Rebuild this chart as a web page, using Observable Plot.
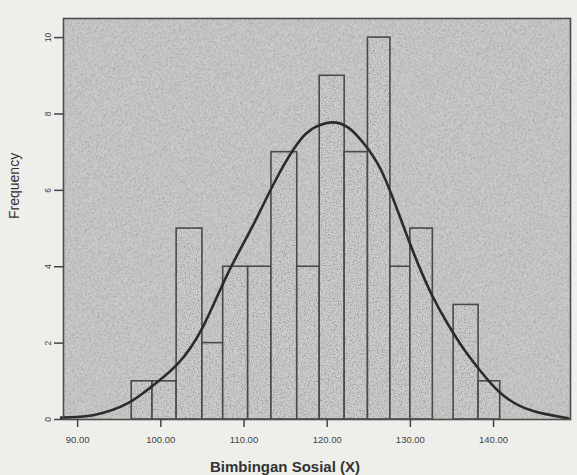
<!DOCTYPE html>
<html>
<head>
<meta charset="utf-8">
<script src="https://cdn.jsdelivr.net/npm/d3@7"></script>
<script src="https://cdn.jsdelivr.net/npm/@observablehq/plot@0.6"></script>
<style>
  html, body { margin: 0; padding: 0; background: #eeeeeb; }
  #chart svg { display: block; }
</style>
</head>
<body>
<div id="chart"></div>
<script>
// Histogram bins (lower / upper edges) and frequencies
const binLo  = [96.5, 99.0, 101.9, 105.0, 107.5, 110.5, 113.3, 116.4, 119.1, 122.1, 124.9, 127.6, 130.0, 132.7, 135.2, 138.2];
const binHi  = [99.0, 101.9, 105.0, 107.5, 110.5, 113.3, 116.4, 119.1, 122.1, 124.9, 127.6, 130.0, 132.7, 135.2, 138.2, 140.8];
const counts = [1, 1, 5, 2, 4, 4, 7, 4, 9, 7, 10, 4, 5, 0, 3, 1];

// Normal curve, points
const curveX = [88.0, 92.0, 96.0, 99.0, 102.0, 105.0, 108.0, 111.0, 114.0, 117.0, 119.0, 120.6, 122.5, 124.5, 126.5, 128.5, 130.5, 132.5, 134.5, 136.5, 138.5, 141.0, 144.5, 149.0];
const curveY = [0.05, 0.12, 0.42, 0.88, 1.45, 2.4, 3.8, 5.05, 6.35, 7.38, 7.7, 7.78, 7.65, 7.2, 6.52, 5.45, 4.3, 3.3, 2.5, 1.82, 1.25, 0.66, 0.24, 0.03];

// Tick values and labels
const xTicks = [90, 100, 110, 120, 130, 140];
const xTickLabels = ["90.00", "100.00", "110.00", "120.00", "130.00", "140.00"];
const yTicks = [0, 2, 4, 6, 8, 10];

const bars = binLo.map((lo, i) => ({x1: lo, x2: binHi[i], y: counts[i]}));
const curve = curveX.map((x, i) => ({x, y: curveY[i]}));

const plot = Plot.plot({
  width: 577,
  height: 475,
  marginTop: 18,
  marginRight: 7,
  marginBottom: 56,
  marginLeft: 63,
  style: {background: "#eeeeeb", fontFamily: "Liberation Sans, Arial, sans-serif", color: "#3a3a3a"},
  x: {domain: [88.3, 149.25]},
  y: {domain: [0, 10.5]},
  marks: [
    Plot.frame({fill: "url(#speckle)", stroke: null}),
    Plot.rectY(bars, {x1: "x1", x2: "x2", y: "y", fill: "url(#speckle)", stroke: "#4a4a4a", strokeWidth: 1.6}),
    Plot.line(curve, {x: "x", y: "y", curve: "natural", stroke: "#2b2b2b", strokeWidth: 2.6}),
    Plot.frame({stroke: "#4d4d4d", strokeWidth: 1.6}),
    Plot.axisX({
      ticks: xTicks,
      tickFormat: (d) => xTickLabels[xTicks.indexOf(d)],
      tickSize: 8, tickPadding: 9, fontSize: 9.5, stroke: "#444", strokeWidth: 1.5, fill: "#444",
      label: null
    }),
    Plot.axisY({
      ticks: yTicks,
      tickSize: 9, tickPadding: 4, tickRotate: -90, fontSize: 8.5, stroke: "#444", strokeWidth: 1.5, fill: "#444",
      label: null
    }),
    Plot.text(["Bimbingan Sosial (X)"], {frameAnchor: "bottom", dy: 52, dx: -32, fontSize: 15, fontWeight: "bold", fill: "#333", letterSpacing: 0.6}),
    Plot.text(["Frequency"], {frameAnchor: "left", dx: -49, rotate: -90, fontSize: 14, fill: "#333", letterSpacing: 1.2})
  ]
});

// speckled grey texture used as fill for the plot area and bars
const defs = d3.select(plot).insert("defs", ":first-child");
const flt = defs.append("filter").attr("id", "noise").attr("x", 0).attr("y", 0).attr("width", "100%").attr("height", "100%");
flt.append("feTurbulence").attr("type", "fractalNoise").attr("baseFrequency", 0.75).attr("numOctaves", 2).attr("seed", 3).attr("result", "n");
flt.append("feColorMatrix").attr("in", "n").attr("type", "matrix")
  .attr("values", "0 0 0 0 0.3  0 0 0 0 0.3  0 0 0 0 0.3  2.4 0 0 0 -1.05");
const pat = defs.append("pattern").attr("id", "speckle").attr("patternUnits", "userSpaceOnUse").attr("width", 577).attr("height", 475);
pat.append("rect").attr("width", 577).attr("height", 475).attr("fill", "#cdcdcb");
pat.append("rect").attr("width", 577).attr("height", 475).attr("filter", "url(#noise)");

document.getElementById("chart").appendChild(plot);
</script>
</body>
</html>
